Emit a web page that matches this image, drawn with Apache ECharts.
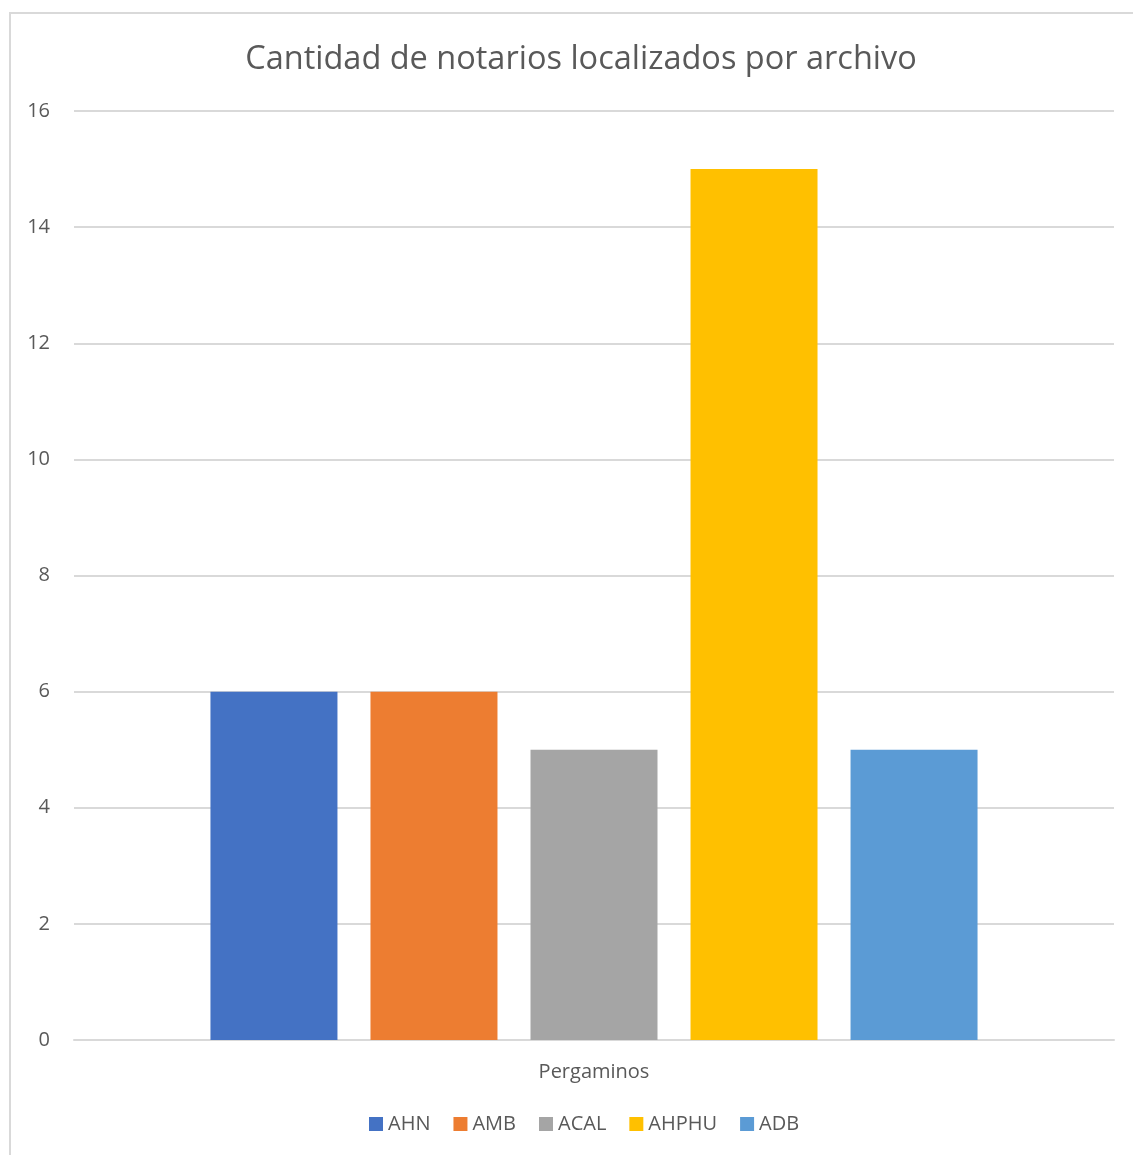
<!DOCTYPE html>
<html>
<head>
<meta charset="utf-8">
<script src="https://cdn.jsdelivr.net/npm/echarts@6/dist/echarts.min.js"></script>
<style>
  html, body { margin: 0; padding: 0; background: #fff; overflow: hidden; }
  #chart { position: absolute; left: 0; top: 0; width: 1133px; height: 1155px; }
  .frame {
    position: absolute; left: 9px; top: 12px; width: 1140px; height: 1160px;
    border: 2px solid #d9d9d9; box-sizing: border-box; pointer-events: none;
  }
</style>
</head>
<body>
<div class="frame"></div>
<div id="chart"></div>
<script>
const titleText = 'Cantidad de notarios localizados por archivo';
const categories = ['Pergaminos'];
const seriesNames = ['AHN', 'AMB', 'ACAL', 'AHPHU', 'ADB'];
const seriesValues = [6, 6, 5, 15, 5];
const seriesColors = ['#4472C4', '#ED7D31', '#A5A5A5', '#FFC000', '#5B9BD5'];

const textColor = '#595959';
const fontFamily = 'Open Sans, sans-serif';

const chart = echarts.init(document.getElementById('chart'));

const series = seriesNames.map((name, i) => ({
  name,
  type: 'bar',
  data: [seriesValues[i]],
  barWidth: 127,
  barGap: '26%',
  itemStyle: { color: seriesColors[i] },
}));

chart.setOption({
  animation: false,
  textStyle: { fontFamily },
  title: {
    text: titleText,
    left: 576,
    textAlign: 'center',
    top: 38,
    textStyle: { color: textColor, fontSize: 32.5, fontWeight: 'normal', fontFamily },
  },
  grid: { left: 74, right: 19, top: 111, bottom: 115 },
  legend: {
    data: seriesNames,
    bottom: 16,
    left: 364,
    icon: 'rect',
    itemWidth: 14,
    itemHeight: 14,
    itemGap: 23,
    textStyle: { color: textColor, fontSize: 20, fontFamily },
  },
  xAxis: {
    type: 'category',
    data: categories,
    axisLine: { lineStyle: { color: '#d9d9d9', width: 2 } },
    axisTick: { show: false },
    axisLabel: { color: textColor, fontSize: 20, margin: 22 },
  },
  yAxis: {
    type: 'value',
    min: 0,
    max: 16,
    interval: 2,
    axisLine: { show: false },
    axisTick: { show: false },
    axisLabel: { color: textColor, fontSize: 20, margin: 24 },
    splitLine: { lineStyle: { color: '#d9d9d9', width: 2 } },
  },
  series,
});
</script>
</body>
</html>
